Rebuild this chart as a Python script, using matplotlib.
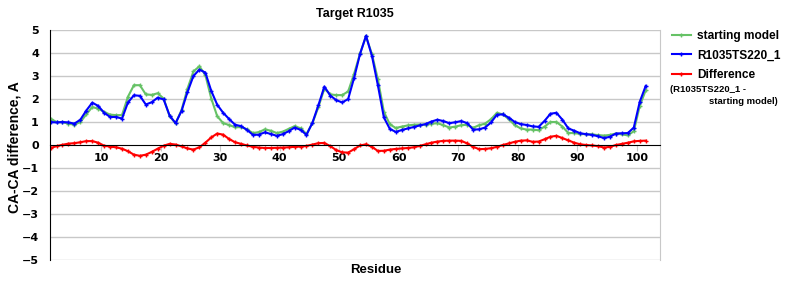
import numpy as np
import matplotlib
matplotlib.use('Agg')
import matplotlib.pyplot as plt
from matplotlib.lines import Line2D

# residue numbers (plotted at the centre of each residue slot)
residue = np.arange(1, 102)

starting_model = [
    1.14, 1.00, 0.99, 0.93, 0.88, 1.00, 1.33, 1.65, 1.58, 1.44,
    1.32, 1.30, 1.30, 2.10, 2.60, 2.60, 2.20, 2.18, 2.25, 2.02,
    1.25, 0.94, 1.52, 2.45, 3.20, 3.42, 3.05, 2.02, 1.25, 0.95,
    0.87, 0.77, 0.78, 0.68, 0.52, 0.56, 0.68, 0.62, 0.52, 0.58,
    0.70, 0.82, 0.73, 0.48, 0.95, 1.65, 2.45, 2.20, 2.17, 2.17,
    2.33, 3.10, 3.98, 4.72, 3.95, 2.85, 1.45, 0.90, 0.74, 0.80,
    0.85, 0.88, 0.89, 0.88, 0.92, 0.95, 0.86, 0.76, 0.80, 0.86,
    0.88, 0.75, 0.86, 0.93, 1.12, 1.40, 1.33, 1.12, 0.86, 0.72,
    0.67, 0.67, 0.64, 0.80, 1.00, 1.00, 0.80, 0.52, 0.52, 0.48,
    0.47, 0.46, 0.43, 0.41, 0.44, 0.50, 0.46, 0.42, 0.60, 1.70,
    2.38]

model = [
    1.00, 0.98, 1.00, 0.98, 0.93, 1.10, 1.50, 1.84, 1.70, 1.40,
    1.22, 1.22, 1.15, 1.85, 2.16, 2.14, 1.76, 1.86, 2.06, 1.98,
    1.28, 0.95, 1.48, 2.30, 3.00, 3.28, 3.15, 2.35, 1.75, 1.40,
    1.13, 0.88, 0.82, 0.66, 0.44, 0.45, 0.55, 0.48, 0.40, 0.47,
    0.60, 0.76, 0.66, 0.44, 0.97, 1.73, 2.54, 2.15, 1.95, 1.85,
    2.00, 2.92, 3.96, 4.75, 3.87, 2.59, 1.20, 0.70, 0.57, 0.65,
    0.72, 0.78, 0.85, 0.91, 1.02, 1.10, 1.04, 0.95, 0.99, 1.04,
    0.95, 0.67, 0.68, 0.76, 0.98, 1.32, 1.33, 1.19, 1.00, 0.91,
    0.87, 0.81, 0.79, 1.05, 1.36, 1.40, 1.10, 0.72, 0.62, 0.51,
    0.47, 0.44, 0.38, 0.30, 0.36, 0.50, 0.51, 0.52, 0.76, 1.88,
    2.57]

difference = [
    -0.13, -0.05, 0.01, 0.06, 0.08, 0.12, 0.17, 0.17, 0.10, -0.03,
    -0.07, -0.10, -0.16, -0.27, -0.42, -0.47, -0.42, -0.30, -0.16, -0.03,
    0.05, 0.02, -0.06, -0.15, -0.20, -0.10, 0.10, 0.33, 0.50, 0.45,
    0.26, 0.12, 0.05, -0.02, -0.08, -0.11, -0.13, -0.13, -0.12, -0.11,
    -0.10, -0.08, -0.07, -0.04, 0.02, 0.08, 0.09, -0.05, -0.22, -0.32,
    -0.33, -0.18, -0.02, 0.03, -0.08, -0.26, -0.25, -0.20, -0.17, -0.15,
    -0.13, -0.10, -0.04, 0.03, 0.10, 0.15, 0.18, 0.19, 0.19, 0.18,
    0.07, -0.08, -0.18, -0.17, -0.14, -0.08, 0.00, 0.07, 0.14, 0.19,
    0.20, 0.14, 0.15, 0.25, 0.36, 0.40, 0.30, 0.20, 0.10, 0.03,
    0.00, -0.02, -0.05, -0.11, -0.08, 0.00, 0.05, 0.10, 0.16, 0.18,
    0.19]

x_ticks = list(range(10, 101, 10))
y_ticks = list(range(-5, 6))

GREEN = '#66c266'
BLUE = '#0000ff'
RED = '#ff0000'
GRID = '#c8c8c8'


def main():
    fig = plt.figure(figsize=(8, 3), dpi=100)
    ax = fig.add_axes([0.0625, 0.1333, 0.7625, 0.7667])

    x = residue + 0.5
    style = dict(linewidth=1.5, marker='+', markersize=3, markeredgewidth=1)
    ax.plot(x, starting_model, color=GREEN, label='starting model', **style)
    ax.plot(x, model, color=BLUE, label='R1035TS220_1', **style)
    ax.plot(x, difference, color=RED, label='Difference', **style)

    ax.set_xlim(1.4, 103.9)
    ax.set_ylim(-5, 5)

    # horizontal grid only
    for yv in y_ticks:
        if yv != 0:
            ax.axhline(yv, color=GRID, linewidth=1, zorder=0)

    ax.spines['top'].set_visible(False)
    ax.spines['right'].set_color(GRID)
    ax.spines['left'].set_color('black')
    ax.spines['bottom'].set_position(('data', 0))
    ax.spines['bottom'].set_color('black')

    ax.set_xticks(x_ticks)
    ax.set_yticks(y_ticks)
    ax.tick_params(axis='x', length=4, color=GRID, pad=2, labelsize=8)
    ax.tick_params(axis='y', length=0, pad=8, labelsize=8)
    for lab in ax.get_xticklabels() + ax.get_yticklabels():
        lab.set_fontweight('bold')
        lab.set_family('DejaVu Sans')

    font = dict(family='Liberation Sans', fontweight='bold')
    fig.text(0.444, 0.955, 'Target R1035', ha='center', va='center', fontsize=9, **font)
    fig.text(0.47, 0.1, 'Residue', ha='center', va='center', fontsize=9.5, **font)
    fig.text(0.018, 0.51, 'CA-CA difference, A', ha='center', va='center',
             rotation=90, fontsize=10, **font)

    handles = [Line2D([], [], color=c, **style) for c in (GREEN, BLUE, RED)]
    fig.legend(handles, ['starting model', 'R1035TS220_1', 'Difference'],
               loc='upper left', bbox_to_anchor=(0.826, 0.935),
               frameon=False, handlelength=1.6, handletextpad=0.55,
               labelspacing=0.62, prop=dict(family='Liberation Sans',
                                            weight='bold', size=8.6))
    fig.text(0.8375, 0.700, '(R1035TS220_1 -', ha='left', va='center',
             fontsize=6.8, **font)
    fig.text(0.972, 0.663, 'starting model)', ha='right', va='center',
             fontsize=6.8, **font)

    fig.savefig('out.png', dpi=100)


if __name__ == '__main__':
    main()
